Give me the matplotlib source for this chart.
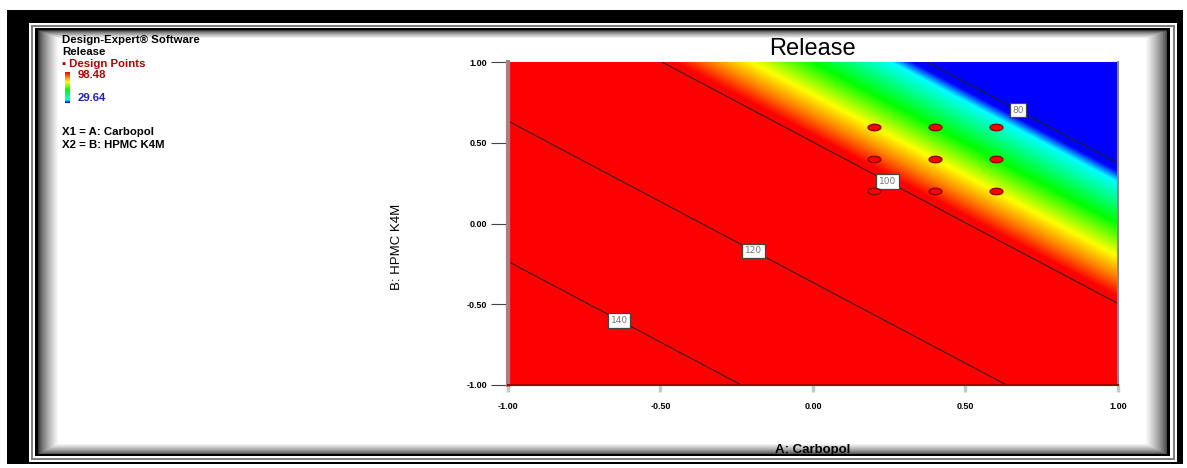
"""Contour plot of Release vs Carbopol / HPMC K4M (Design-Expert style)."""

import numpy as np
import matplotlib.pyplot as plt
from matplotlib.colors import LinearSegmentedColormap
from matplotlib.path import Path

W, H = 1187, 468

# fitted linear model for Release in coded factors
intercept = 111.6
coef_a = -23.0
coef_b = -23.0

# design points (coded)
design_a = [0.2, 0.4, 0.6, 0.2, 0.4, 0.6, 0.2, 0.4, 0.6]
design_b = [0.6, 0.6, 0.6, 0.4, 0.4, 0.4, 0.2, 0.2, 0.2]

contour_levels = [80, 100, 120, 140]
label_spots = [(0.68, 0.73), (0.25, 0.28), (-0.19, -0.15), (-0.63, -0.58)]
ticks = [-1.0, -0.5, 0.0, 0.5, 1.0]
tick_labels = ["-1.00", "-0.50", "0.00", "0.50", "1.00"]
scale_hi, scale_lo = "98.48", "29.64"

# rainbow as drawn by the software (blue low -> red high)
color_stops = [(0.0, "#0000ff"), (0.09, "#00ffff"), (0.42, "#00ff00"),
               (0.68, "#ffff00"), (0.85, "#ff8000"), (1.0, "#ff0000")]
vmin, vmax = 81.0, 99.0

FONT = "Liberation Sans"


def fx(px):
    return px / W


def fy(py):
    return 1 - py / H


def build_frame():
    img = np.ones((H, W))
    img[10:464, 7:1183] = 0.0
    img[23:462, 29:1177] = 1.0
    img[25:460, 31:1175] = 0.5
    img[27:458, 33:1173] = 1.0
    img[28:456, 35:1170] = 0.0
    y0, y1, x0, x1 = 30, 454, 38, 1167
    yy, xx = np.mgrid[y0:y1, x0:x1]
    ramp = np.minimum.reduce([
        np.clip((xx - x0) / 20.0, 0, 1),
        np.clip((yy - y0) / 8.0, 0, 1),
        np.clip((x1 - xx) / 22.0, 0, 1),
        np.clip((y1 - yy) / 11.0, 0, 1),
    ])
    img[y0:y1, x0:x1] = 0.2 + 0.8 * ramp ** 0.7
    return np.dstack([img] * 3)


def release(a, b):
    return intercept + coef_a * a + coef_b * b


def main():
    cmap = LinearSegmentedColormap.from_list("dx", color_stops)

    fig = plt.figure(figsize=(W / 100, H / 100), dpi=100)

    bg = fig.add_axes([0, 0, 1, 1], zorder=-5)
    bg.imshow(build_frame(), aspect="auto", interpolation="nearest")
    bg.axis("off")

    ax = fig.add_axes([fx(508), fy(385), fx(1118) - fx(508), fy(62) - fy(385)])
    a = np.linspace(-1, 1, 400)
    b = np.linspace(-1, 1, 400)
    A, B = np.meshgrid(a, b)
    Z = release(A, B)
    ax.imshow(Z, origin="lower", extent=(-1, 1, -1, 1), cmap=cmap,
              vmin=vmin, vmax=vmax, aspect="auto", interpolation="bilinear")
    cs = ax.contour(A, B, Z, levels=contour_levels, colors="#202020",
                    linewidths=0.7)
    labels = ax.clabel(cs, fmt="%d", fontsize=6.5, manual=label_spots,
                       inline=True, inline_spacing=4)
    for t in labels:
        t.set_bbox(dict(boxstyle="square,pad=0.3", fc="white", ec="#444444",
                        lw=0.9))
        t.set_color("#777777")
        t.set_rotation(0)

    ell = np.linspace(0, 2 * np.pi, 41)
    marker = Path(np.c_[np.cos(ell), 0.5 * np.sin(ell)], closed=True)
    ax.scatter(design_a, design_b, marker=marker, s=85, c="#ff0000",
               edgecolors="#8b0000", linewidths=1.0, zorder=5)

    ax.set_xlim(-1, 1)
    ax.set_ylim(-1, 1)
    ax.set_xticks(ticks)
    ax.set_yticks(ticks)
    ax.set_xticklabels(tick_labels, fontsize=6.5, fontweight="bold",
                       family=FONT)
    ax.set_yticklabels(tick_labels, fontsize=6.5, fontweight="bold",
                       family=FONT)
    ax.tick_params(axis="y", length=12, width=0.8, color="#444444", pad=3)
    ax.tick_params(axis="x", length=5, width=2.5, color="#c8c8c8", pad=7)
    ax.spines["left"].set_color("#a88080")
    ax.spines["left"].set_linewidth(3)
    ax.spines["bottom"].set_color("#a00000")
    ax.spines["bottom"].set_linewidth(1.5)
    ax.spines["right"].set_color("#888888")
    ax.spines["right"].set_linewidth(1.5)
    ax.spines["top"].set_visible(False)

    fig.text(fx(812), fy(49), "Release", fontsize=17, family=FONT,
             ha="center", va="center")
    fig.text(fx(397), fy(247), "B: HPMC K4M", fontsize=9.5, family=FONT,
             rotation=90, ha="center", va="center")
    fig.text(fx(813), fy(450), "A: Carbopol", fontsize=9.5, family=FONT,
             fontweight="bold", ha="center", va="center")

    # software legend block in the top-left corner
    small = dict(fontsize=8.2, family=FONT, fontweight="bold", ha="left",
                 va="center")
    fig.text(fx(62), fy(40), "Design-Expert\u00ae Software", **small)
    fig.text(fx(62), fy(52), "Release", **small)
    fig.text(fx(62), fy(64), "\u25aa Design Points", color="#b00000", **small)
    fig.text(fx(78), fy(75), scale_hi, color="#b00000", **small)
    fig.text(fx(78), fy(98), scale_lo, color="#2020c0", **small)
    fig.text(fx(62), fy(132), "X1 = A: Carbopol", **small)
    fig.text(fx(62), fy(145), "X2 = B: HPMC K4M", **small)

    cb = fig.add_axes([fx(65), fy(103), fx(70) - fx(65), fy(72) - fy(103)])
    cb.imshow(np.linspace(1, 0, 50)[:, None], cmap=cmap, aspect="auto",
              vmin=0, vmax=1)
    cb.axis("off")

    fig.savefig("out.png", dpi=100)


if __name__ == "__main__":
    main()
